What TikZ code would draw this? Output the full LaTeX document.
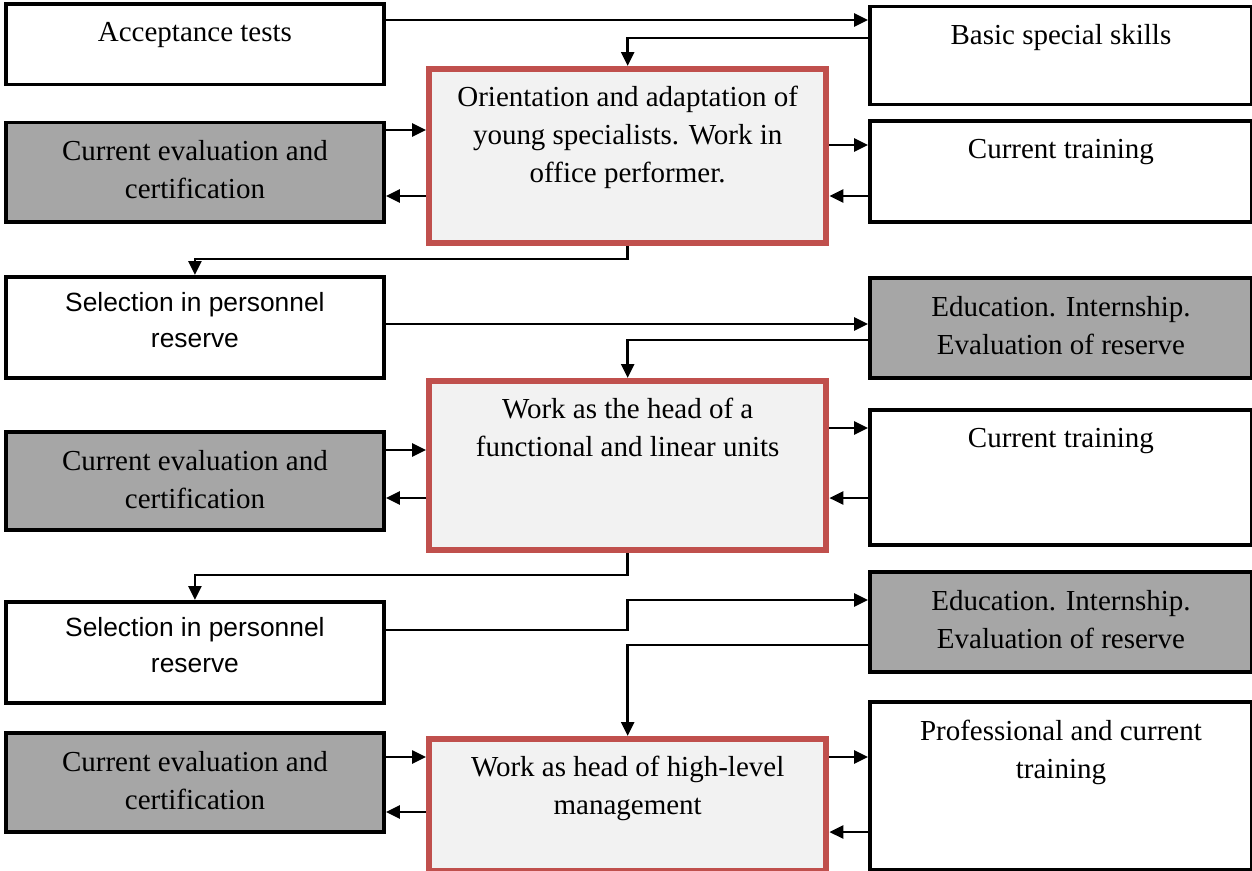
\documentclass[tikz,border=0pt]{standalone}
\usepackage{fontspec}
\setmainfont{Liberation Serif}
\newfontfamily\arialfont{Liberation Sans}
\usetikzlibrary{arrows.meta, positioning, calc}

\definecolor{boxgrey}{HTML}{A6A6A6}
\definecolor{stagered}{HTML}{C0504D}
\definecolor{stagefill}{HTML}{F2F2F2}

\begin{document}
\begin{tikzpicture}[
    box/.style={draw, line width=2.2pt, anchor=north west, inner sep=0pt},
    greybox/.style={box, fill=boxgrey},
    stage/.style={draw=stagered, fill=stagefill, line width=3.6pt, anchor=north west, inner sep=0pt},
    txt/.style={anchor=north, yshift=-0.28cm, align=center, font=\fontsize{16.5}{21.6}\selectfont},
    sanstxt/.style={txt, yshift=0.06cm, font=\arialfont\fontsize{15}{20.5}\selectfont},
    link/.style={line width=1.5pt, -{Triangle[length=0.28cm,width=0.26cm]}}
  ]
  \useasboundingbox (0,0) rectangle (25.04,-17.4);

  % left column
  \draw (0.08,-0.04) node[box, minimum width=7.56cm, minimum height=1.61cm,
    label={[txt]north:Acceptance tests}] (accept) {};
  \draw (0.08,-2.41) node[greybox, minimum width=7.56cm, minimum height=1.99cm,
    label={[txt]north:{Current evaluation and\\certification}}] (evalA) {};
  \draw (0.08,-5.50) node[box, minimum width=7.56cm, minimum height=2.02cm,
    label={[sanstxt]north:{Selection in personnel\\reserve}}] (selA) {};
  \draw (0.08,-8.60) node[greybox, minimum width=7.56cm, minimum height=1.96cm,
    label={[txt]north:{Current evaluation and\\certification}}] (evalB) {};
  \draw (0.08,-12.00) node[box, minimum width=7.56cm, minimum height=2.02cm,
    label={[sanstxt]north:{Selection in personnel\\reserve}}] (selB) {};
  \draw (0.08,-14.62) node[greybox, minimum width=7.56cm, minimum height=1.98cm,
    label={[txt]north:{Current evaluation and\\certification}}] (evalC) {};

  % middle column
  \draw (8.52,-1.32) node[stage, minimum width=7.94cm, minimum height=3.48cm,
    label={[txt]north:{Orientation and adaptation of\\young specialists. Work in\\office performer.}}] (orient) {};
  \draw (8.52,-7.56) node[stage, minimum width=7.94cm, minimum height=3.38cm,
    label={[txt]north:{Work as the head of a\\functional and linear units}}] (headA) {};
  \draw (8.52,-14.72) node[stage, minimum width=7.94cm, minimum height=2.63cm,
    label={[txt]north:{Work as head of high-level\\management}}] (headB) {};

  % right column
  \draw (17.36,-0.09) node[box, minimum width=7.64cm, minimum height=1.96cm,
    label={[txt]north:Basic special skills}] (basic) {};
  \draw (17.36,-2.38) node[box, minimum width=7.64cm, minimum height=2.02cm,
    label={[txt]north:Current training}] (trainA) {};
  \draw (17.36,-5.52) node[greybox, minimum width=7.64cm, minimum height=2.00cm,
    label={[txt]north:{Education. Internship.\\Evaluation of reserve}}] (eduA) {};
  \draw (17.36,-8.16) node[box, minimum width=7.64cm, minimum height=2.70cm,
    label={[txt]north:Current training}] (trainB) {};
  \draw (17.36,-11.40) node[greybox, minimum width=7.64cm, minimum height=2.00cm,
    label={[txt]north:{Education. Internship.\\Evaluation of reserve}}] (eduB) {};
  \draw (17.36,-14.00) node[box, minimum width=7.64cm, minimum height=3.36cm,
    label={[txt]north:{Professional and current\\training}}] (prof) {};

  % connectors
  \draw[link] (accept.east |- 0,-0.40) -- (basic.west |- 0,-0.40);
  \draw[link] (basic.west |- 0,-0.76) -| (orient.north);
  \draw[link] (evalA.east |- 0,-2.60) -- (orient.west |- 0,-2.60);
  \draw[link] (orient.west |- 0,-3.92) -- (evalA.east |- 0,-3.92);
  \draw[link] (orient.east |- 0,-2.90) -- (trainA.west |- 0,-2.90);
  \draw[link] (trainA.west |- 0,-3.92) -- (orient.east |- 0,-3.92);
  \draw[link] (orient.south) -- (orient.south |- 0,-5.18) -| (selA.north);

  \draw[link] (selA.east |- 0,-6.48) -- (eduA.west |- 0,-6.48);
  \draw[link] (eduA.west |- 0,-6.80) -| (headA.north);
  \draw[link] (evalB.east |- 0,-9.00) -- (headA.west |- 0,-9.00);
  \draw[link] (headA.west |- 0,-9.96) -- (evalB.east |- 0,-9.96);
  \draw[link] (headA.east |- 0,-8.56) -- (trainB.west |- 0,-8.56);
  \draw[link] (trainB.west |- 0,-9.96) -- (headA.east |- 0,-9.96);
  \draw[link] (headA.south) -- (headA.south |- 0,-11.50) -| (selB.north);

  \draw[link] (selB.east |- 0,-12.60) -| (headB.north |- 0,-12.00) -- (eduB.west |- 0,-12.00);
  \draw[link] (eduB.west |- 0,-12.90) -| (headB.north);
  \draw[link] (evalC.east |- 0,-15.14) -- (headB.west |- 0,-15.14);
  \draw[link] (headB.west |- 0,-16.24) -- (evalC.east |- 0,-16.24);
  \draw[link] (headB.east |- 0,-15.14) -- (prof.west |- 0,-15.14);
  \draw[link] (prof.west |- 0,-16.64) -- (headB.east |- 0,-16.64);
\end{tikzpicture}
\end{document}
